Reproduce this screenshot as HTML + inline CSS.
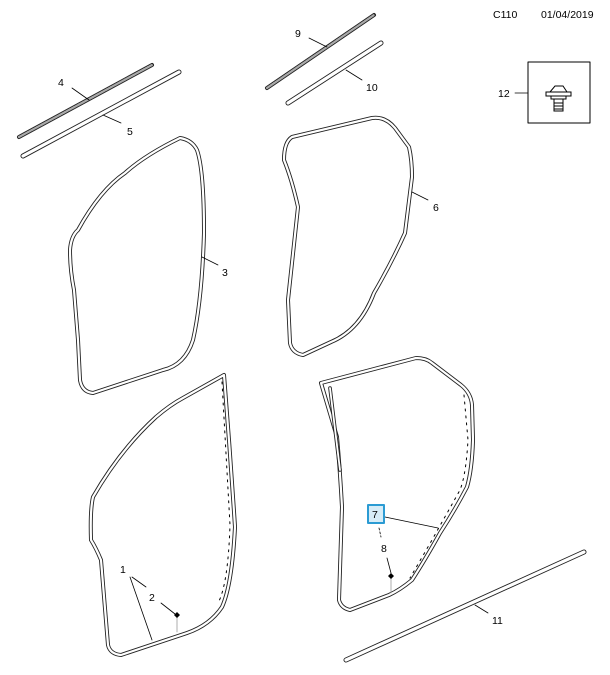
<!DOCTYPE html>
<html><head><style>
body{margin:0;background:#fff;}
svg{display:block;font-family:"Liberation Sans",Arial,sans-serif;font-size:10.5px;}
</style></head><body>
<svg width="610" height="675" viewBox="0 0 610 675" xmlns="http://www.w3.org/2000/svg">
<defs>
<path id="s3" d="M180,138 Q192,140 197,150 Q204,170 204,233 Q202,300 193,340 Q185,365 163,370 L93,393 Q82,392 80,380 L78,340 L74,290 Q70,270 70,250 Q71,236 78,230 Q100,190 125,173 Q145,155 180,138 Z"/>
<path id="s6" d="M292,137 L372,118 Q385,116 395,128 L409,147 Q412,160 412,177 L405,233 Q392,262 374,293 Q360,330 331,342 L303,355 Q292,353 290,343 L288,300 L298,207 Q292,180 284,160 Q284,142 292,137 Z"/>
<path id="d1" d="M224,375 Q230,450 235,527 Q232,585 222,607 Q210,625 187,633 L121,655 Q110,654 108,645 L101,560 Q96,548 91,540 Q90,510 93,497 Q120,450 156,417 Q170,405 183,398 Z"/>
<path id="d7" d="M321,383 L416,358 Q426,358 432,363 L461,385 Q471,393 472,405 L473,440 Q472,470 467,487 Q455,510 440,533 Q425,560 412,580 Q400,590 389,595 L350,610 Q341,608 339,600 L342,507 Q340,470 337,437 Z"/>
</defs>
<g fill="none" stroke-linejoin="round" stroke-linecap="round">
<use href="#s3" stroke="#222" stroke-width="4"/><use href="#s3" stroke="#fff" stroke-width="2.2"/>
<use href="#s6" stroke="#222" stroke-width="4"/><use href="#s6" stroke="#fff" stroke-width="2.2"/>
<use href="#d1" stroke="#222" stroke-width="4"/><use href="#d1" stroke="#fff" stroke-width="2.2"/>
<use href="#d7" stroke="#222" stroke-width="4"/><use href="#d7" stroke="#fff" stroke-width="2.2"/>
<path d="M330,388 L340,470" stroke="#222" stroke-width="3.6"/><path d="M330,388 L340,470" stroke="#fff" stroke-width="1.8"/>
<path d="M222,382 L230,525 Q228,585 218,603" stroke="#000" stroke-width="1" stroke-dasharray="2,5"/>
<path d="M464,395 L468,440 Q466,475 460,490 L432,540 L410,578" stroke="#000" stroke-width="1" stroke-dasharray="2,5"/>
<path d="M19,137 L152,65" stroke="#222" stroke-width="4"/><path d="M19,137 L152,65" stroke="#aaa" stroke-width="2.2" stroke-dasharray="1,1"/>
<path d="M23,156 L179,72" stroke="#222" stroke-width="5"/><path d="M23,156 L179,72" stroke="#fff" stroke-width="3.2"/>
<path d="M267,88 L374,15" stroke="#222" stroke-width="4"/><path d="M267,88 L374,15" stroke="#aaa" stroke-width="2.2" stroke-dasharray="1,1"/>
<path d="M288,103 L381,43" stroke="#222" stroke-width="5"/><path d="M288,103 L381,43" stroke="#fff" stroke-width="3.2"/>
<path d="M346,660 L584,552" stroke="#222" stroke-width="5"/><path d="M346,660 L584,552" stroke="#fff" stroke-width="3.2"/>
<g stroke="#000" stroke-width="0.8">
<line x1="72" y1="88" x2="89" y2="100"/><line x1="103" y1="115" x2="121" y2="123"/>
<line x1="309" y1="38" x2="327" y2="47"/><line x1="346" y1="70" x2="362" y2="80"/>
<line x1="202" y1="257" x2="218" y2="265"/><line x1="412" y1="192" x2="428" y2="200"/>
<line x1="475" y1="605" x2="488" y2="613"/><line x1="515" y1="93" x2="528" y2="93"/>
<line x1="132" y1="577" x2="146" y2="587"/><line x1="130" y1="577" x2="152" y2="640"/>
<line x1="161" y1="603" x2="175" y2="614"/><line x1="177" y1="615" x2="177" y2="632" stroke="#999"/>
<line x1="385" y1="517" x2="438" y2="528"/>
<line x1="379" y1="528" x2="381" y2="537" stroke-dasharray="2,2"/>
<line x1="387" y1="558" x2="391" y2="573"/><line x1="391" y1="576" x2="391" y2="593" stroke="#999"/>
</g>
<rect x="528" y="62" width="62" height="61" stroke="#000" stroke-width="1"/>
<rect x="368" y="505" width="16" height="18" fill="#d6ecf7" stroke="#2b9bd3" stroke-width="2"/>
</g>
<g stroke="#000" stroke-width="1" fill="#fff">
<path d="M550,92 L555,86 L563,86 L567,92 Z"/>
<rect x="546" y="92" width="25" height="4"/>
<rect x="551" y="96" width="15" height="3"/>
<rect x="554" y="99" width="9" height="12"/>
<path d="M554,103 L563,103 M554,106 L563,106 M554,109 L563,109"/>
</g>
<path d="M177,612 l-3,3 3,3 3,-3z M391,573 l-3,3 3,3 3,-3z" fill="#000"/>
<g fill="#000">
<text x="493" y="18">C110</text><text x="541" y="18">01/04/2019</text>
<text x="295" y="37">9</text><text x="366" y="91">10</text>
<text x="58" y="86">4</text><text x="127" y="135">5</text>
<text x="222" y="276">3</text><text x="433" y="211">6</text>
<text x="498" y="97">12</text><text x="492" y="624">11</text>
<text x="120" y="573">1</text><text x="149" y="601">2</text>
<text x="372" y="518">7</text><text x="381" y="552">8</text>
</g>
</svg>
</body></html>
